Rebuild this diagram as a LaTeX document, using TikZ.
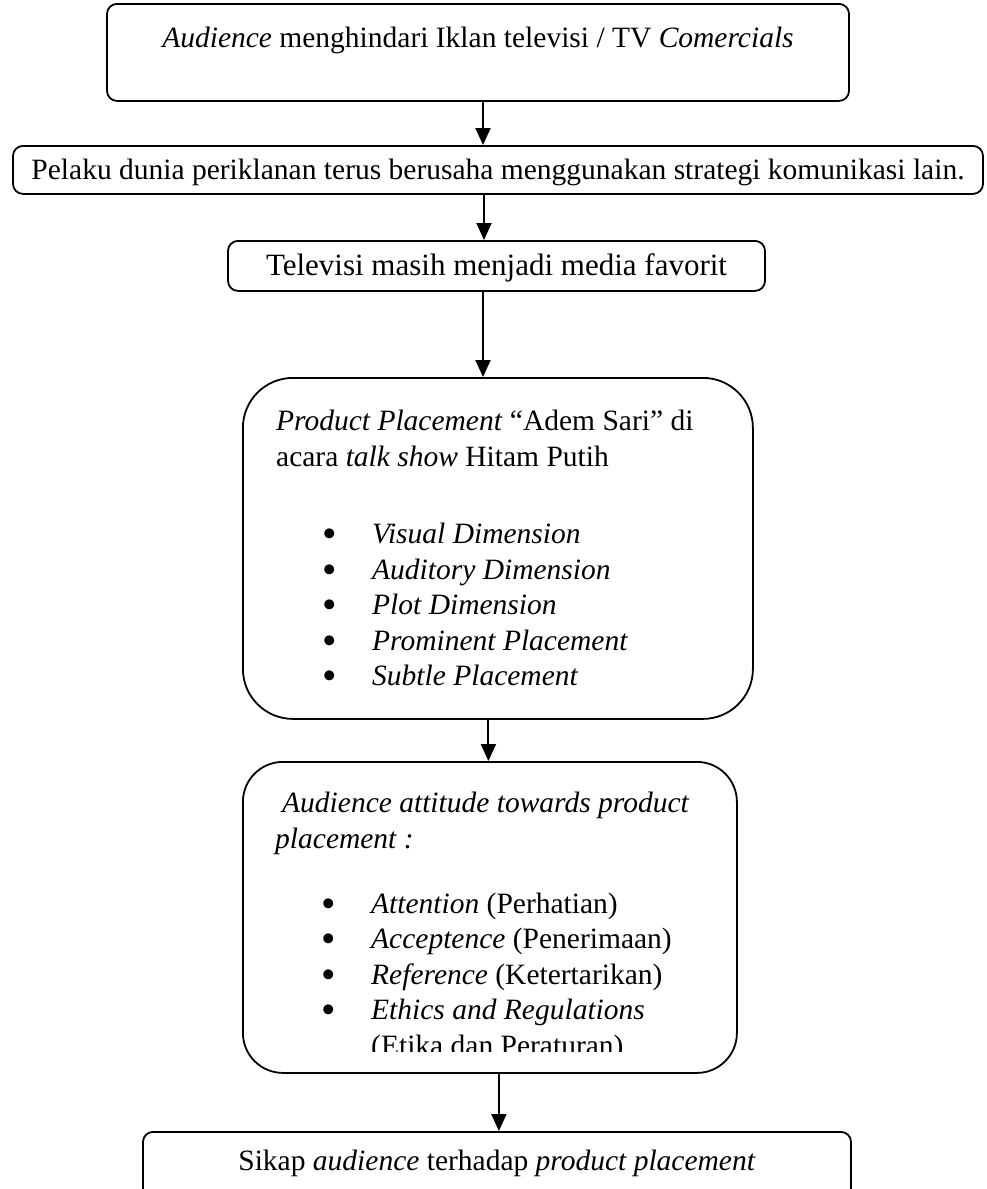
\documentclass[tikz,border=0pt]{standalone}
\usepackage{fontspec}
\usepackage{graphicx}
\setmainfont{Liberation Serif}
\usetikzlibrary{arrows.meta}
\newcommand{\bigdot}{\raisebox{-0.13em}{\scalebox{1.4}{\textbullet}}}
\newcommand{\bulitem}[1]{\makebox[96pt][l]{\hspace*{46pt}\bigdot}#1}

\begin{document}
\begin{tikzpicture}[x=1pt, y=-1pt,
    >={Triangle[width=15pt,length=17pt]},
    every node/.style={font=\fontsize{29.5}{35.5}\selectfont},
    flowbox/.style={draw, line width=1.8pt, rounded corners=10pt, inner sep=0pt, anchor=north},
    bigbox/.style={draw, line width=1.8pt, inner sep=0pt, anchor=north west},
    boxtext/.style={inner sep=0pt, anchor=north west, align=left},
    arr/.style={->, line width=1.9pt},
]
\clip (0,0) rectangle (987,1189);
\fill[white] (0,0) rectangle (987,1189);

% ============ TOP BOXES ============
\node[flowbox, minimum width=742pt, text height=44pt, text depth=53pt] (b1) at (478,3)
  {\textit{Audience} menghindari Iklan televisi / TV \textit{Comercials}};
\node[flowbox, minimum width=970pt, text height=34pt, text depth=14pt] (b2) at (498,145)
  {Pelaku dunia periklanan terus berusaha menggunakan strategi komunikasi lain.};
\node[flowbox, minimum width=537pt, text height=35pt, text depth=15pt,
      font=\fontsize{31}{35.5}\selectfont] (b3) at (496.5,240)
  {Televisi masih menjadi media favorit};

% ============ PRODUCT PLACEMENT ============
\node[bigbox, rounded corners=50pt, minimum width=510pt, minimum height=341pt] (b4) at (242,377) {};
\node[boxtext] (t4) at ([xshift=34pt, yshift=-33pt]b4.north west) {%
\textit{Product Placement} ``Adem Sari'' di\\
acara \textit{talk show} Hitam Putih\\[42pt]
\bulitem{\textit{Visual Dimension}}\\
\bulitem{\textit{Auditory Dimension}}\\
\bulitem{\textit{Plot Dimension}}\\
\bulitem{\textit{Prominent Placement}}\\
\bulitem{\textit{Subtle Placement}}};

% ============ AUDIENCE ATTITUDE ============
\node[bigbox, rounded corners=40pt, minimum width=494pt, minimum height=311pt] (b5) at (242,761) {};
\begin{scope}
\clip (b5.north west) rectangle ([yshift=22pt]b5.south east);
\node[boxtext] (t5) at ([xshift=33pt, yshift=-31pt]b5.north west) {%
\hspace*{7pt}\textit{Audience attitude towards product}\\
\textit{placement :}\\[29.5pt]
\bulitem{\textit{Attention} (Perhatian)}\\
\bulitem{\textit{Acceptence} (Penerimaan)}\\
\bulitem{\textit{Reference} (Ketertarikan)}\\
\bulitem{\textit{Ethics and Regulations}}\\
\hspace*{96pt}(Etika dan Peraturan)};
\end{scope}

% ============ RESULT ============
\node[flowbox, minimum width=708pt, text height=39pt, text depth=70pt] (b6) at (497,1131)
  {Sikap \textit{audience} terhadap \textit{product placement}};

% ============ CONNECTORS ============
\draw[arr] ([xshift=5pt]b1.south) -- ([xshift=5pt]b1.south |- b2.north);
\draw[arr] ([xshift=-14pt]b2.south) -- ([xshift=-14pt]b2.south |- b3.north);
\draw[arr] ([xshift=-13.5pt]b3.south) -- ([xshift=-13.5pt]b3.south |- b4.north);
\draw[arr] ([xshift=-9.5pt]b4.south) -- ([xshift=-9.5pt]b4.south |- b5.north);
\draw[arr] ([xshift=9pt]b5.south) -- ([xshift=9pt]b5.south |- b6.north);

\end{tikzpicture}
\end{document}
